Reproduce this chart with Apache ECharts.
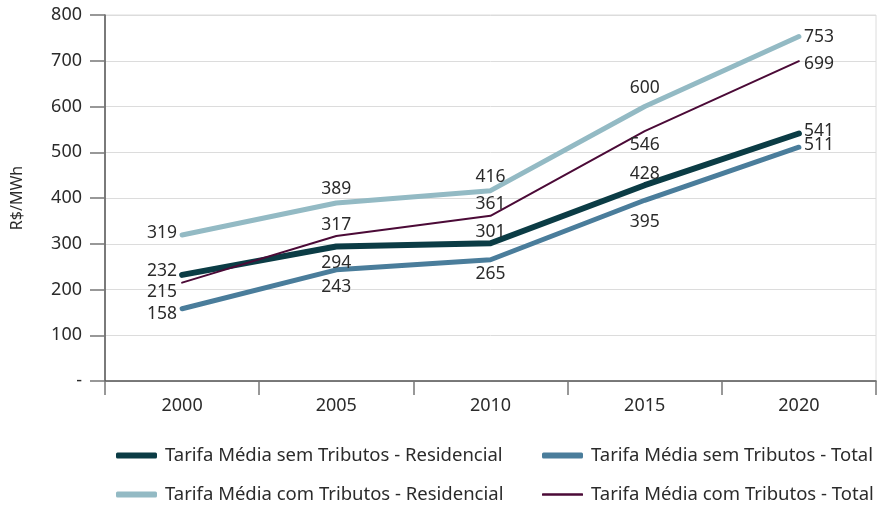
<!DOCTYPE html>
<html>
<head>
<meta charset="utf-8">
<script src="https://cdn.jsdelivr.net/npm/echarts@6/dist/echarts.min.js"></script>
<style>
  html, body { margin: 0; padding: 0; background: #fff; }
  #chart { width: 880px; height: 505px; }
</style>
</head>
<body>
<div id="chart"></div>
<script>
const years = ["2000", "2005", "2010", "2015", "2020"];
const semResidencial = [232, 294, 301, 428, 541];
const semTotal = [158, 243, 265, 395, 511];
const comResidencial = [319, 389, 416, 600, 753];
const comTotal = [215, 317, 361, 546, 699];
const yTicks = [0, 100, 200, 300, 400, 500, 600, 700, 800];

const names = [
  "Tarifa Média sem Tributos - Residencial",
  "Tarifa Média sem Tributos - Total",
  "Tarifa Média com Tributos - Residencial",
  "Tarifa Média com Tributos - Total",
];

// label placement per point
const semResPos = ["left", "bottom", "top", "top", "right"];
const semTotPos = ["left", "bottom", "bottom", "bottom", "right"];
const comResPos = ["left", "top", "top", "top", "right"];
const comTotPos = ["left", "top", "top", "bottom", "right"];

const FONT = "Noto Sans";
const TEXT = "#2b2b2b";
const chartDom = document.getElementById("chart");
const myChart = echarts.init(chartDom);

function points(values, pos, offsets) {
  return values.map((v, i) => ({
    value: v,
    label: { position: pos[i], offset: offsets[i] },
  }));
}

function makeSeries(name, values, pos, color, width, offsets) {
  return {
    name: name,
    type: "line",
    data: points(values, pos, offsets),
    symbol: "circle",
    symbolSize: 0,
    showSymbol: true,
    lineStyle: { color: color, width: width, cap: "round", join: "round" },
    itemStyle: { color: color },
    label: {
      show: true,
      color: TEXT,
      fontFamily: FONT,
      fontSize: 17.5,
      distance: 5,
    },
    emphasis: { disabled: true },
  };
}

// one legend per entry so the two columns line up like the reference
function makeLegend(name, left, top, h) {
  return {
    left: left,
    top: top,
    itemWidth: 41,
    itemHeight: h,
    itemGap: 0,
    icon: "roundRect",
    textStyle: { fontFamily: FONT, fontSize: 18.5, color: TEXT, padding: [0, 0, 0, 3] },
    data: [name],
  };
}

const option = {
  animation: false,
  textStyle: { fontFamily: FONT },
  grid: {
    left: 105,
    right: 4,
    top: 15,
    bottom: 124,
    show: true,
    borderColor: "#dcdcdc",
    borderWidth: 1,
  },
  legend: [
    makeLegend(names[0], 111, 441, 6),
    makeLegend(names[1], 537, 441, 6),
    makeLegend(names[2], 111, 480, 6),
    makeLegend(names[3], 537, 480, 2.5),
  ],
  xAxis: {
    type: "category",
    data: years,
    boundaryGap: true,
    axisLine: { lineStyle: { color: "#555", width: 1.5 } },
    axisTick: { show: true, length: 14, lineStyle: { color: "#777", width: 1.5 } },
    axisLabel: { fontFamily: FONT, fontSize: 18, color: TEXT, margin: 16 },
  },
  yAxis: {
    type: "value",
    min: yTicks[0],
    max: yTicks[yTicks.length - 1],
    interval: 100,
    name: "R$/MWh",
    nameLocation: "middle",
    nameGap: 80,
    nameTextStyle: { fontFamily: FONT, fontSize: 16, color: TEXT },
    axisLine: { show: true, lineStyle: { color: "#555", width: 1.5 } },
    axisTick: { show: true, length: 15, lineStyle: { color: "#777", width: 1.5 } },
    axisLabel: {
      fontFamily: FONT,
      fontSize: 18,
      color: TEXT,
      margin: 23,
      formatter: (v) => (v === 0 ? "-" : String(v)),
    },
    splitLine: { show: true, lineStyle: { color: "#dcdcdc", width: 1 } },
  },
  series: [
    makeSeries(names[0], semResidencial, semResPos, "#0b3c45", 6,
      [[0, -4], [0, 3], [0, 3], [0, 3], [0, -2]]),
    makeSeries(names[1], semTotal, semTotPos, "#4a7d9b", 5,
      [[0, 5], [0, 3], [0, 0], [0, 8], [0, -2]]),
    makeSeries(names[2], comResidencial, comResPos, "#93bac4", 5,
      [[0, -2], [0, 0], [0, 0], [0, -4], [0, 1]]),
    makeSeries(names[3], comTotal, comTotPos, "#4b0a37", 2,
      [[0, 9], [0, 3], [0, 2], [0, 0], [0, 3]]),
  ],
};

option && myChart.setOption(option);
</script>
</body>
</html>
